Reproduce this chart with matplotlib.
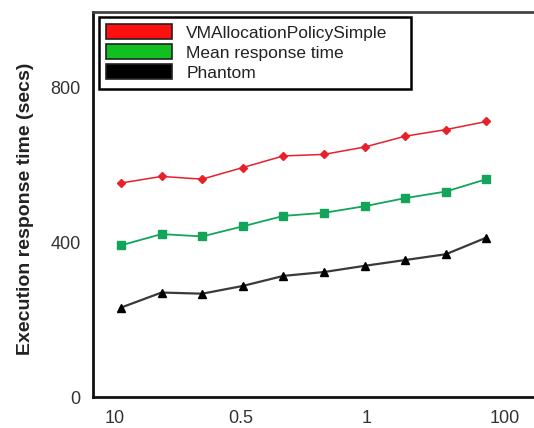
import matplotlib.pyplot as plt
from matplotlib.patches import Patch
import numpy as np

plt.rcParams['font.family'] = ['Liberation Sans', 'DejaVu Sans']

# series (secs)
vm_simple = [553, 570, 563, 593, 623, 627, 646, 674, 691, 712]
mean_resp = [392, 421, 415, 441, 468, 476, 493, 514, 531, 563]
phantom = [231, 270, 267, 287, 313, 323, 339, 354, 369, 412]
x_tick_labels = ["10", "0.5", "1", "100"]
y_ticks = [0, 400, 800]

x = np.arange(len(vm_simple))

fig = plt.figure(figsize=(5.34, 4.28), dpi=100)
ax = fig.add_axes([0.174, 0.0724, 0.826, 0.8996])

ax.plot(x, vm_simple, color="#e8202a", lw=1.1, marker="D", ms=4.5)
ax.plot(x, mean_resp, color="#12a55a", lw=1.3, marker="s", ms=6)
ax.plot(x, phantom, color="#3a3a3a", lw=1.6, marker="^", ms=6, mfc="black", mec="black")

ax.set_xlim(-0.69, 10.17)
ax.set_ylim(0, 995)
ax.set_yticks(y_ticks)
ax.set_xticks([-0.15, 2.95, 6.05, 9.45])
ax.set_xticklabels(x_tick_labels)
ax.tick_params(length=0, labelsize=13, labelcolor="#333333")
ax.tick_params(axis="x", pad=9)
ax.tick_params(axis="y", pad=9)

ax.spines["right"].set_visible(False)
for s in ["left", "bottom"]:
    ax.spines[s].set_linewidth(2)
    ax.spines[s].set_color("#111111")
ax.spines["top"].set_linewidth(2)
ax.spines["top"].set_color("#444444")

ax.set_ylabel("Execution response time (secs)", fontsize=14, fontweight="bold", color="#222222")
ax.yaxis.set_label_coords(-0.134, 0.49)

handles = [
    Patch(facecolor="#ff1010", edgecolor="#222222", lw=1.2, label="VMAllocationPolicySimple"),
    Patch(facecolor="#10c020", edgecolor="#222222", lw=1.2, label="Mean response time"),
    Patch(facecolor="black", edgecolor="#222222", lw=1.2, label="Phantom"),
]
leg = ax.legend(handles=handles, loc="upper left", bbox_to_anchor=(0.013, 0.988, 0.708, 0),
                mode="expand", borderaxespad=0, fontsize=12.5, fancybox=False, framealpha=1,
                handlelength=3.75, handleheight=0.95, handletextpad=0.85,
                labelspacing=0.2, borderpad=0.45)
leg.get_frame().set_edgecolor("black")
leg.get_frame().set_linewidth(1.8)
for t in leg.get_texts():
    t.set_color("#222222")

plt.savefig("out.png", dpi=100)
